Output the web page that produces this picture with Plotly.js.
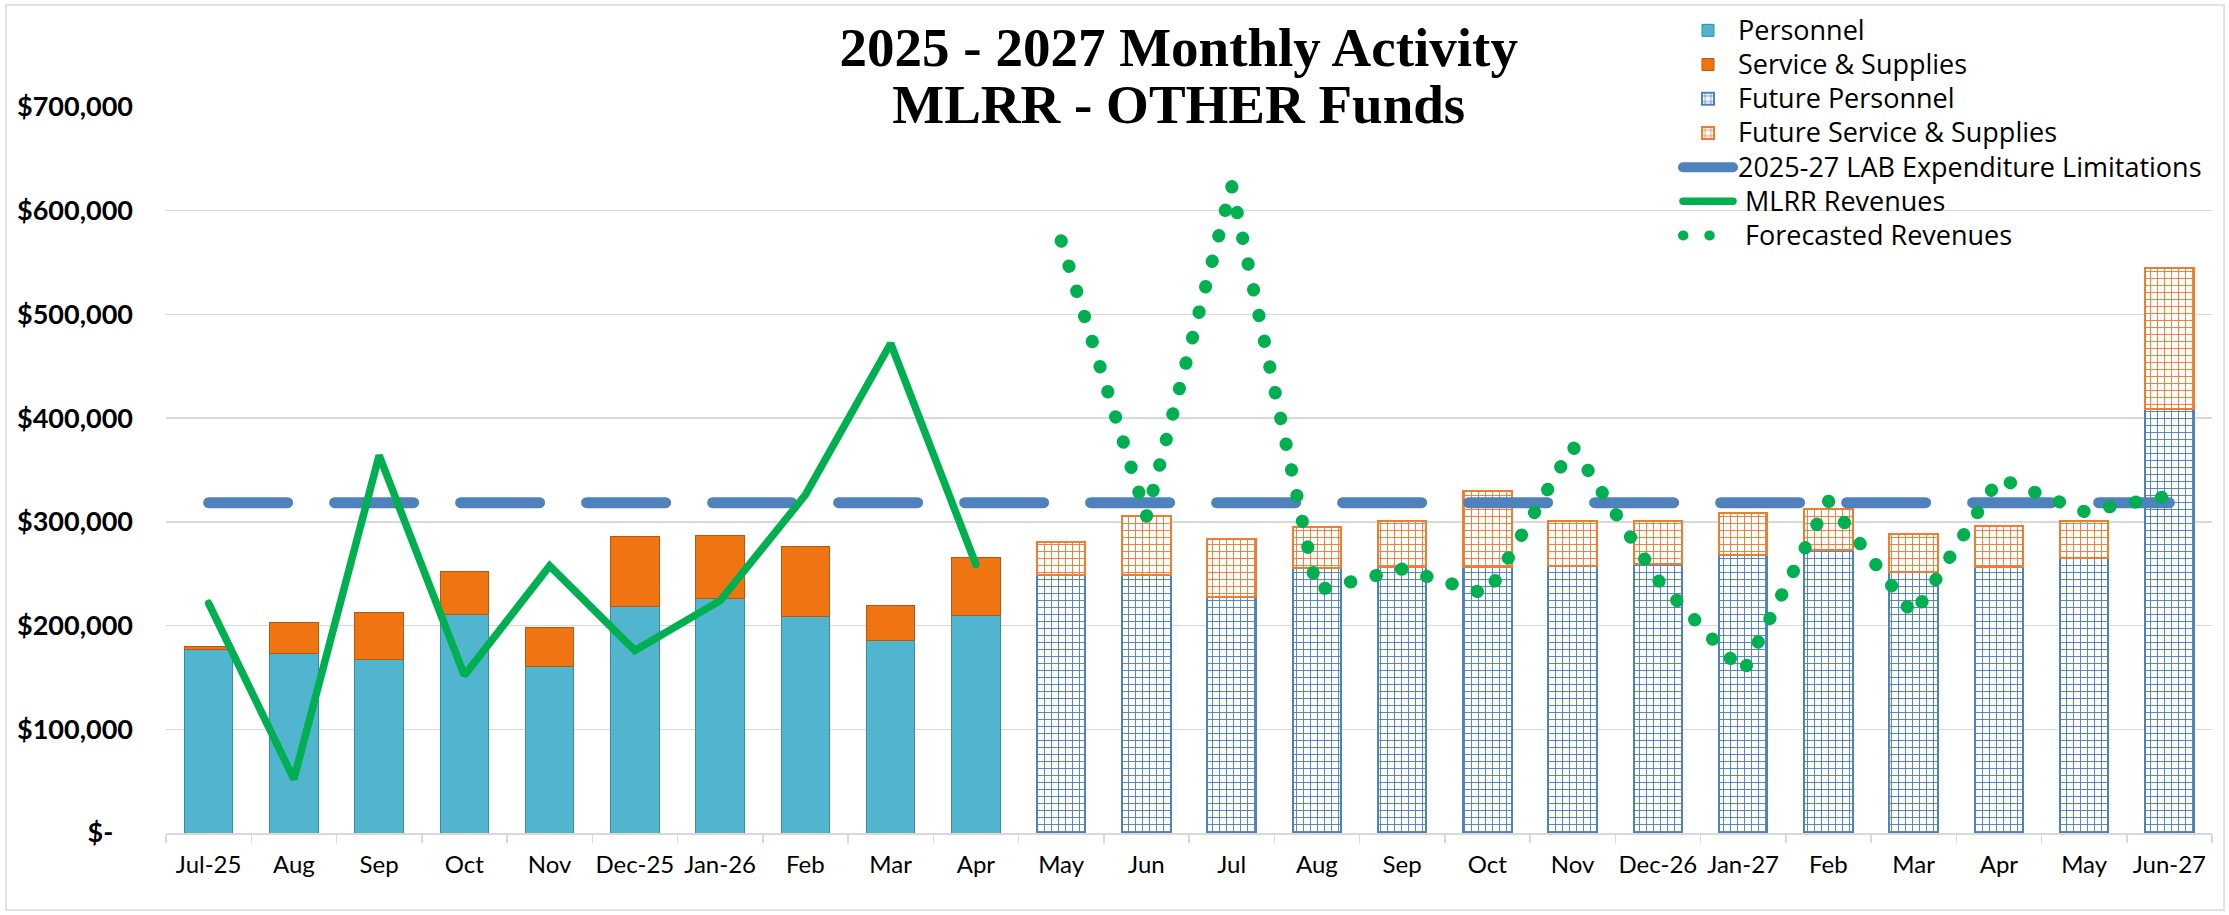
<!DOCTYPE html>
<html>
<head>
<meta charset="utf-8">
<script src="https://cdn.plot.ly/plotly-3.0.1.min.js"></script>
<style>
  html, body { margin: 0; padding: 0; background: #ffffff; }
  #chart { width: 2229px; height: 915px; }
  .js-line { stroke-linecap: round; }
</style>
</head>
<body>
<div id="chart"></div>
<script>
// ---------- data ----------
const periods = ["2025-07","2025-08","2025-09","2025-10","2025-11","2025-12",
                 "2026-01","2026-02","2026-03","2026-04","2026-05","2026-06",
                 "2026-07","2026-08","2026-09","2026-10","2026-11","2026-12",
                 "2027-01","2027-02","2027-03","2027-04","2027-05","2027-06"];
const monthLabels = ["Jul-25","Aug","Sep","Oct","Nov","Dec-25","Jan-26","Feb","Mar","Apr",
                     "May","Jun","Jul","Aug","Sep","Oct","Nov","Dec-26","Jan-27","Feb",
                     "Mar","Apr","May","Jun-27"];

const personnel = [176500, 173000, 167000, 210500, 161000, 218500, 226500, 208500, 185500, 210000,
                   null, null, null, null, null, null, null, null, null, null, null, null, null, null];
const serviceSupplies = [3500, 29500, 46000, 42000, 37500, 67500, 60500, 67500, 34000, 56000,
                   null, null, null, null, null, null, null, null, null, null, null, null, null, null];
const futurePersonnel = [null, null, null, null, null, null, null, null, null, null,
                   249000, 249000, 227300, 255300, 256300, 256300, 257000, 259500, 268200, 273300,
                   252100, 256200, 265500, 408700];
const futureServiceSupplies = [null, null, null, null, null, null, null, null, null, null,
                   31400, 57100, 55700, 40200, 44300, 73300, 43600, 41800, 40800, 38900,
                   36000, 39800, 35800, 136300];
const labLimitation = [318500, 318500, 318500, 318500, 318500, 318500, 318500, 318500,
                       318500, 318500, 318500, 318500, 318500, 318500, 318500, 318500,
                       318500, 318500, 318500, 318500, 318500, 318500, 318500, 318500];
const mlrrRevenues = [221500, 52000, 364000, 152000, 257500, 176000, 224000, 326000, 472000, 259000,
                   null, null, null, null, null, null, null, null, null, null, null, null, null, null];
const forecastedRevenues = [null, null, null, null, null, null, null, null, null, null,
                   571000, 305000, 624000, 234000, 254500, 230000, 373000, 244000, 155000, 320000,
                   210000, 342000, 310000, 325000];

const yTickValues = [0, 100000, 200000, 300000, 400000, 500000, 600000, 700000];
const yTickLabels = ["$-\u00a0\u00a0\u00a0", "$100,000", "$200,000", "$300,000",
                     "$400,000", "$500,000", "$600,000", "$700,000"];

const titleLines = ["2025 - 2027 Monthly Activity", "MLRR - OTHER Funds"];
const seriesNames = ["Personnel", "Service & Supplies", "Future Personnel", "Future Service & Supplies",
                     "2025-27 LAB Expenditure Limitations", "\u00a0MLRR Revenues", "\u00a0Forecasted Revenues"];

// ---------- styles ----------
const C = {
  personnel: "#52B5D0", personnelEdge: "#3C8AA0",
  sns: "#F07512", snsEdge: "#B4590E",
  futBlue: "#4F81BD", futOrange: "#ED7D31",
  lab: "#4F81BD", green: "#00B050", grid: "#D9D9D9"
};
const FONT = "Lato, 'Open Sans', sans-serif";
const big = (s, px) => '<span style="font-size:' + px + 'px">' + s + '</span>';
const legName = s => big(s, 27);

const traces = [
  { type: "bar", name: legName(seriesNames[0]), x: periods, y: personnel,
    marker: { color: C.personnel, line: { color: C.personnelEdge, width: 1 } } },
  { type: "bar", name: legName(seriesNames[1]), x: periods, y: serviceSupplies,
    marker: { color: C.sns, line: { color: C.snsEdge, width: 1 } } },
  { type: "bar", name: legName(seriesNames[2]), x: periods, y: futurePersonnel,
    marker: { color: "#ffffff", line: { color: C.futBlue, width: 2 },
      pattern: { shape: "+", fgcolor: C.futBlue, bgcolor: "#ffffff", size: 7, solidity: 0.25, fillmode: "replace" } } },
  { type: "bar", name: legName(seriesNames[3]), x: periods, y: futureServiceSupplies,
    marker: { color: "#ffffff", line: { color: C.futOrange, width: 2 },
      pattern: { shape: "+", fgcolor: C.futOrange, bgcolor: "#ffffff", size: 7, solidity: 0.25, fillmode: "replace" } } },
  { type: "scatter", mode: "lines", name: legName(seriesNames[4]), x: periods, y: labLimitation,
    line: { color: C.lab, width: 11, dash: "79px,47px" } },
  { type: "scatter", mode: "lines", name: legName(seriesNames[5]), x: periods, y: mlrrRevenues,
    line: { color: C.green, width: 7.5 }, connectgaps: false },
  { type: "scatter", mode: "lines", name: legName(seriesNames[6]), x: periods, y: forecastedRevenues,
    line: { color: C.green, width: 13, dash: "0.5px,25.8px" }, connectgaps: false }
];

const layout = {
  width: 2229, height: 915,
  paper_bgcolor: "#ffffff", plot_bgcolor: "#ffffff",
  margin: { l: 166, r: 17, t: 107, b: 82, pad: 0, autoexpand: false },
  barmode: "stack", bargap: 0.43,
  font: { family: FONT, color: "#000000" },
  title: {
    text: titleLines.map(s => big(s, 55)).join("<br>"),
    font: { family: "'Liberation Serif', 'DejaVu Serif', serif", size: 44, weight: "bold", color: "#000000" },
    x: 0.495, xanchor: "center", xref: "paper",
    y: 0.928, yanchor: "middle", yref: "container"
  },
  showlegend: true,
  legend: {
    x: 0.739, xanchor: "left", y: 1.136, yanchor: "top",
    bgcolor: "rgba(0,0,0,0)", borderwidth: 0,
    font: { family: "'Open Sans', Lato, sans-serif", size: 24, color: "#000000" },
    traceorder: "normal", tracegroupgap: 0, itemwidth: 50
  },
  xaxis: {
    type: "category", categoryorder: "array", categoryarray: periods,
    tickmode: "array", tickvals: periods, ticktext: monthLabels, tickangle: 0,
    showline: true, linecolor: C.grid, linewidth: 1.5,
    ticks: "outside", tickson: "boundaries", ticklen: 8, tickcolor: C.grid, tickwidth: 1.5,
    tickfont: { family: FONT, size: 24, color: "#000000" },
    ticklabelstandoff: 10, showgrid: false, zeroline: false, fixedrange: true
  },
  yaxis: {
    range: [0, 700000], tickmode: "array", tickvals: yTickValues, ticktext: yTickLabels,
    showgrid: true, gridcolor: C.grid, gridwidth: 1.5,
    zeroline: false, showline: false, ticks: "",
    tickfont: { family: FONT, size: 27, weight: "bold", color: "#000000" },
    ticklabelstandoff: 32, fixedrange: true
  },
  shapes: [{
    type: "rect", xref: "paper", yref: "paper", layer: "below",
    x0: -0.0782, x1: 1.0059, y0: -0.106, y1: 1.1405,
    line: { color: C.grid, width: 1.5 }, fillcolor: "rgba(0,0,0,0)"
  }]
};

Plotly.newPlot("chart", traces, layout, { displayModeBar: false, staticPlot: true });
</script>
</body>
</html>
